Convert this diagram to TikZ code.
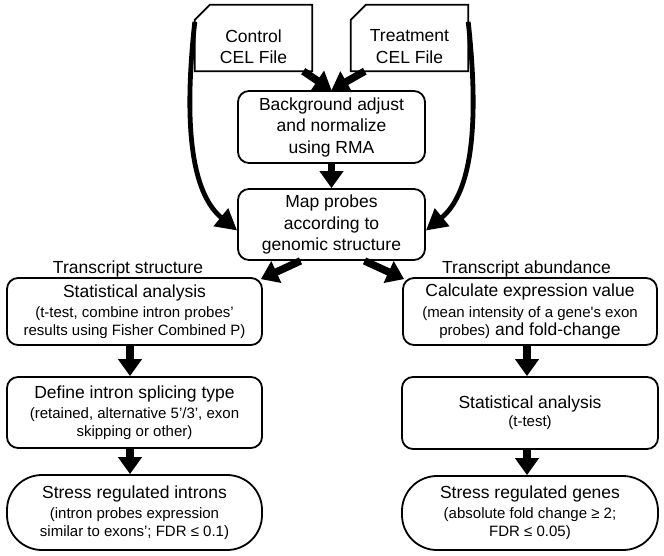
\documentclass[tikz,border=0pt]{standalone}
\usepackage{fontspec}
\setmainfont{Liberation Sans}
\usetikzlibrary{arrows.meta,calc}
\newcommand{\mainf}{\fontsize{17.5}{21.5}\selectfont}
\newcommand{\smallf}{\fontsize{15}{18}\selectfont}
\tikzset{
  box/.style={draw, line width=1.8pt, rounded corners=11pt, align=center, inner sep=0pt, font=\mainf},
  stadium/.style={box, rounded corners=35pt},
  hole/.style={inner sep=0pt},
  filetext/.style={align=center, font=\mainf, inner sep=0pt},
  lbl/.style={font=\mainf, inner sep=0pt},
  bigarrow/.style={line width=7.5pt, -{Triangle[length=17pt,width=23pt]}},
  curvearrow/.style={line width=4.8pt, -{Triangle[length=21pt,width=22pt]}},
}
\begin{document}
\begin{tikzpicture}[x=1pt,y=-1pt]
\useasboundingbox (0,0) rectangle (664,555);

% file inputs
\node[hole, minimum width=117pt, minimum height=66pt] (ctrl) at (253.5,38) {};
\node[hole, minimum width=117pt, minimum height=66pt] (treat) at (409.5,38) {};
\draw[line width=1.8pt] (ctrl.south west) -- ([yshift=-15pt]ctrl.north west) -- ([xshift=15pt]ctrl.north west) -- (ctrl.north east) -- (ctrl.south east) -- cycle;
\draw[line width=1.8pt] (treat.south west) -- ([yshift=-15pt]treat.north west) -- ([xshift=15pt]treat.north west) -- (treat.north east) -- (treat.south east) -- cycle;
\node[filetext] (ctrltxt) at ([yshift=-8.5pt]ctrl.center) {Control\\CEL File};
\node[filetext] (treattxt) at ([yshift=-8.5pt]treat.center) {Treatment\\CEL File};

% central boxes
\node[box, minimum width=187pt, minimum height=72pt] (bg) at (331.5,127) {Background adjust\\and normalize\\using RMA};
\node[box, minimum width=187pt, minimum height=71pt] (map) at (331.5,224.5) {Map probes\\according to\\genomic structure};

% labels
\node[lbl] (lab1) at (128,269) {Transcript structure};
\node[lbl] (lab2) at (526.5,269) {Transcript abundance};

% left column
\node[box, minimum width=255pt, minimum height=67pt] (stat1) at (134.5,311.5)
  {Statistical analysis\\[-1pt]{\smallf (t-test, combine intron probes’}\\[-3.5pt]{\smallf results using Fisher Combined P)}};
\node[box, minimum width=255pt, minimum height=71pt] (def) at (134.5,412.5)
  {Define intron splicing type\\[-1.5pt]{\smallf (retained, alternative 5’/3’, exon}\\[-4pt]{\smallf skipping or other)}};
\node[stadium, minimum width=255pt, minimum height=75pt] (introns) at (134.5,512.5)
  {Stress regulated introns\\[-1.5pt]{\smallf (intron probes expression}\\[-3.5pt]{\smallf similar to exons’; FDR ≤ 0.1)}};

% right column
\node[box, minimum width=254pt, minimum height=67pt] (calc) at (530,311.5)
  {Calculate expression value\\[-1pt]{\smallf (mean intensity of a gene\textquotesingle s exon}\\[-3.5pt]{\smallf probes)} and fold-change};
\node[box, minimum width=256pt, minimum height=72pt] (stat2) at (530,413)
  {Statistical analysis\\[-3.5pt]{\smallf (t-test)}};
\node[stadium, minimum width=256pt, minimum height=74pt] (genes) at (530,513)
  {Stress regulated genes\\[-1.5pt]{\smallf (absolute fold change ≥ 2;}\\[-3.5pt]{\smallf FDR ≤ 0.05)}};

% connectors
\draw[bigarrow] ([xshift=-9pt]ctrl.south east) -- (bg.north);
\draw[bigarrow] ([xshift=14pt]treat.south west) -- (bg.north);
\draw[bigarrow] (bg.south) -- (map.north);
\draw[curvearrow] ([yshift=-17pt]ctrl.north west) .. controls (184,120) and (190,192) .. ([yshift=-6pt]map.west);
\draw[curvearrow] ([yshift=-17pt]treat.north east) .. controls (479,120) and (473,192) .. ([yshift=-6pt]map.east);
\draw[bigarrow] ([xshift=-31pt]map.south) -- ([shift={(-2pt,-2pt)}]stat1.north east);
\draw[bigarrow] ([xshift=33pt]map.south) -- ([shift={(2pt,-2pt)}]calc.north west);
\draw[bigarrow] ([xshift=-4.5pt]stat1.south) -- ([xshift=-4.5pt]def.north);
\draw[bigarrow] ([xshift=-4.5pt]def.south) -- ([xshift=-4.5pt]introns.north);
\draw[bigarrow] ([xshift=-3pt]calc.south) -- ([xshift=-3pt]stat2.north);
\draw[bigarrow] ([xshift=-3pt]stat2.south) -- ([xshift=-3pt]genes.north);
\end{tikzpicture}
\end{document}
